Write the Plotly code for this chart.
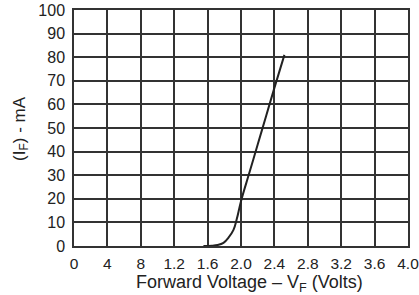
import plotly.graph_objects as go

# Data
voltage = [1.55, 1.65, 1.72, 1.79, 1.85, 1.91, 1.95, 2.0, 2.1, 2.2, 2.3, 2.4, 2.52]
current = [0.0, 0.1, 0.4, 1.3, 3.5, 6.8, 11.5, 19.0, 31.0, 43.0, 55.0, 67.0, 81.0]

x_tick_vals = [0, 0.4, 0.8, 1.2, 1.6, 2.0, 2.4, 2.8, 3.2, 3.6, 4.0]
x_tick_text = ["0", "4", "8", "1.2", "1.6", "2.0", "2.4", "2.8", "3.2", "3.6", "4.0"]
y_tick_vals = [0, 10, 20, 30, 40, 50, 60, 70, 80, 90, 100]
x_title = "Forward Voltage – V<sub>F</sub> (Volts)"
y_title = "(I<sub>F</sub>) - mA"

fig = go.Figure()
fig.add_trace(go.Scatter(x=voltage, y=current, mode="lines",
                         line=dict(color="#222222", width=2, shape="spline"),
                         showlegend=False, hoverinfo="skip"))

font = dict(family="Liberation Sans, Arial, sans-serif", size=16, color="#222222")
fig.update_layout(
    width=419, height=295,
    margin=dict(l=74, r=11, t=10, b=49, autoexpand=False),
    paper_bgcolor="white", plot_bgcolor="white",
    font=font,
)
fig.update_xaxes(range=[0, 4.0], tickvals=x_tick_vals, ticktext=x_tick_text,
                 automargin=False, tickfont=dict(size=15.5), ticklabeloverflow="allow",
                 ticklabelstandoff=3,
                 showgrid=True, gridcolor="#333333", gridwidth=1.5,
                 showline=True, linecolor="#333333", linewidth=1.5, mirror=True,
                 zeroline=False, ticks="", ticklen=0)
fig.update_yaxes(range=[0, 100], tickvals=y_tick_vals,
                 automargin=False, tickfont=dict(size=16), ticklabeloverflow="allow",
                 ticklabelstandoff=4,
                 showgrid=True, gridcolor="#333333", gridwidth=1.5,
                 showline=True, linecolor="#333333", linewidth=1.5, mirror=True,
                 zeroline=False, ticks="", ticklen=0)
fig.add_annotation(text=x_title, xref="paper", yref="paper", x=0.524, y=-0.158,
                   xanchor="center", yanchor="middle", showarrow=False,
                   font=dict(size=18))
fig.add_annotation(text=y_title, xref="paper", yref="paper", x=-0.159, y=0.5,
                   xanchor="center", yanchor="middle", showarrow=False, textangle=-90,
                   font=dict(size=17))

fig.write_html("out.html", config={"displayModeBar": False},
               post_script="document.body.style.margin='0';")
